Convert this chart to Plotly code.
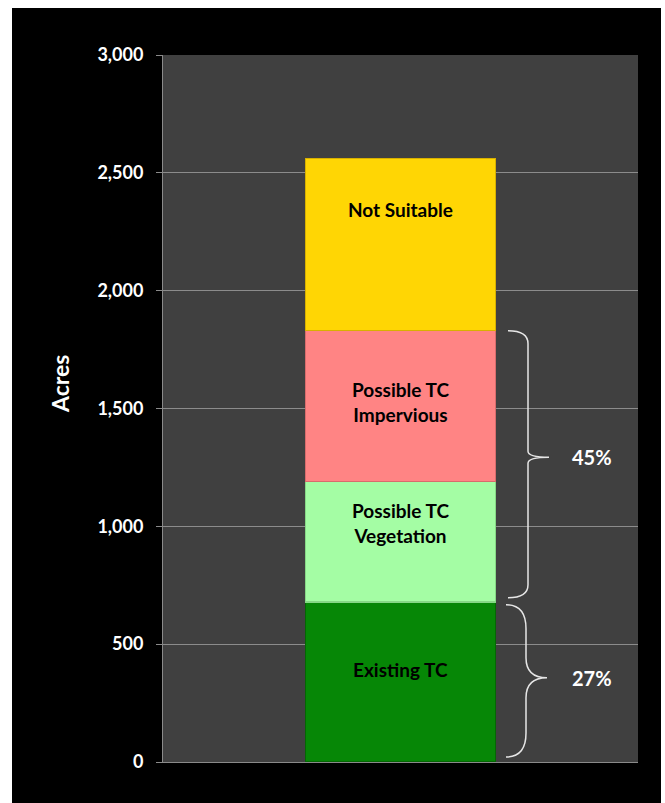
import plotly.graph_objects as go

# Land cover breakdown (acres), stacked bottom to top
categories = ["Existing TC", "Possible TC<br>Vegetation", "Possible TC<br>Impervious", "Not Suitable"]
acres = [680, 510, 640, 730]
colors = ["#068706", "#A4FDA4", "#FF8484", "#FFD604"]
edge_colors = ["#046604", "#86D886", "#D86C6C", "#D8B000"]
label_shift = [12, 19, 4, 35]   # vertical nudge of segment labels (px)
y_ticks = [0, 500, 1000, 1500, 2000, 2500, 3000]

W, H = 665, 803
L, R, T, B = 163, 27, 55, 41
PW, PH = W - L - R, H - T - B
FONT = "Lato"

def px_x(px):
    return (px - L) / PW

def px_y(py):
    return (H - B - py) / PH

fig = go.Figure()

bottoms = []
running = 0
for name, val, col, ec in zip(categories, acres, colors, edge_colors):
    bottoms.append(running)
    fig.add_trace(go.Bar(
        x=[0], y=[val], width=0.4, name=name.replace("<br>", " "),
        marker=dict(color=col, line=dict(color=ec, width=1.5)),
        hoverinfo="name+y",
    ))
    running += val
total = running

# Segment labels
for name, val, b, sh in zip(categories, acres, bottoms, label_shift):
    fig.add_annotation(
        x=0, y=b + val / 2, xref="x", yref="y", text=f"<b>{name}</b>",
        showarrow=False, yshift=sh, font=dict(family=FONT, size=19, color="black"),
    )

unit = 3000 / PH  # data units per pixel

# Curly braces summarising share of total
def brace(y_top, y_bot, ym, x0, x1, x2, r, r2):
    return (f"M {x0},{y_top} Q {x1},{y_top} {x1},{y_top - r} "
            f"L {x1},{ym + r2} Q {x1},{ym} {x2},{ym} "
            f"Q {x1},{ym} {x1},{ym - r2} "
            f"L {x1},{y_bot + r} Q {x1},{y_bot} {x0},{y_bot}")

def dx(px):
    return (px - (L + PW / 2)) / PW

possible_top = bottoms[3]
possible_bot = bottoms[1]
existing_top = bottoms[1]
groups = [
    # top, bottom, share, x0, x1, tip x (px), corner r, tip r, tip lift (px)
    (possible_top, possible_bot + 4 * unit, possible_top - possible_bot, 508, 528, 549, 13, 6, 7),
    (existing_top - 3 * unit, 5 * unit, acres[0], 506, 526, 547, 24, 20, 3),
]
for y_top, y_bot, share, a, b, c, r, r2, lift in groups:
    ym = (y_top + y_bot) / 2 + lift * unit
    fig.add_shape(type="path", xref="x", yref="y",
                  path=brace(y_top, y_bot, ym, dx(a), dx(b), dx(c), r * unit, r2 * unit),
                  line=dict(color="#E6E6E6", width=1.5))
    fig.add_annotation(
        x=dx(592), y=ym, xref="x", yref="y",
        text=f"<b>{round(100 * share / total)}%</b>", showarrow=False,
        font=dict(family=FONT, size=20, color="white"),
    )

# Axis title
fig.add_annotation(
    x=px_x(60), y=px_y(384), xref="paper", yref="paper", text="<b>Acres</b>",
    xanchor="center", yanchor="middle",
    textangle=-90, showarrow=False, font=dict(family=FONT, size=23, color="white"),
)

# White frame around the black canvas
for x0, x1, y0, y1 in [(0, 12, 0, H), (661, W, 0, H), (0, W, 0, 8)]:
    fig.add_shape(type="rect", xref="paper", yref="paper", layer="above",
                  x0=px_x(x0), x1=px_x(x1), y0=px_y(y1), y1=px_y(y0),
                  fillcolor="white", line=dict(width=0))

fig.update_layout(
    width=W, height=H, barmode="stack", showlegend=False,
    margin=dict(l=L, r=R, t=T, b=B, pad=0),
    paper_bgcolor="black", plot_bgcolor="#404040",
    xaxis=dict(range=[-0.5, 0.5], showticklabels=False, showgrid=False,
               zeroline=False, showline=True, linecolor="#8A8A8A", linewidth=1,
               fixedrange=True),
    yaxis=dict(range=[0, 3000], tickvals=y_ticks, tickformat=",",
               showgrid=True, gridcolor="#8C8C8C", gridwidth=1,
               zeroline=False, showline=True, linecolor="#8A8A8A", linewidth=1,
               ticks="outside", ticklen=6, tickcolor="#8A8A8A",
               ticklabelstandoff=9,
               tickfont=dict(family=FONT, size=18, color="white", weight="bold"),
               fixedrange=True),
)

fig.write_html("out.html")
